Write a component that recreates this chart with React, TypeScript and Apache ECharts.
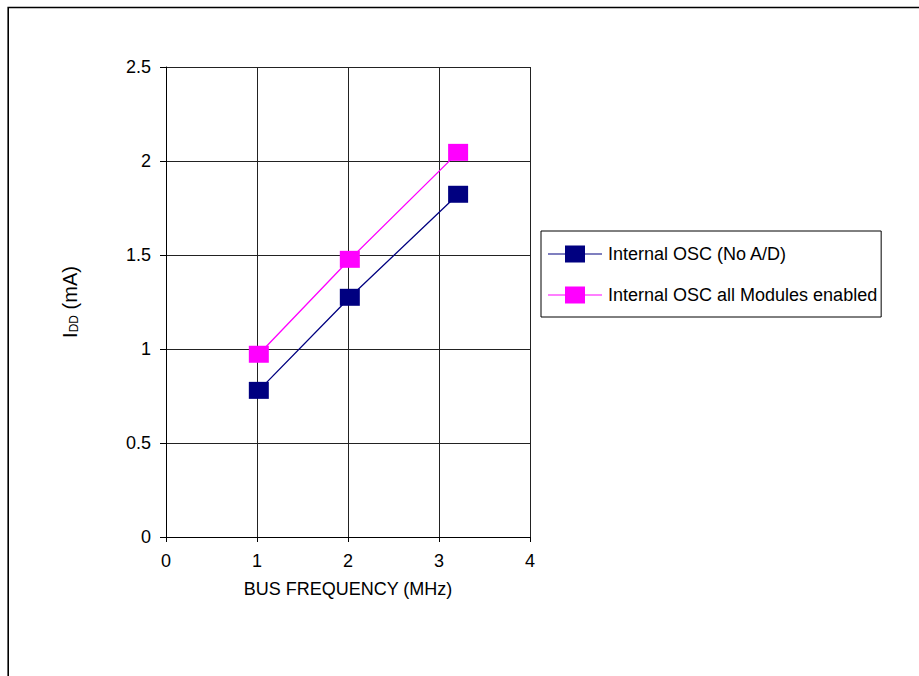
import React, { useEffect, useRef } from "react";
import * as echarts from "echarts";

const seriesNames = ["Internal OSC (No A/D)", "Internal OSC all Modules enabled"];
const busFreq = [1.02, 2.02, 3.21];
const iddNoAD = [0.78, 1.275, 1.823];
const iddAllModules = [0.972, 1.477, 2.046];
const seriesColors = ["#000080", "#FF00FF"];

const FONT = "'Liberation Sans', Arial, sans-serif";

export default function App() {
  const ref = useRef<HTMLDivElement>(null);
  useEffect(() => {
    if (!ref.current) return;
    const chart = echarts.init(ref.current, undefined, { renderer: "svg" });
    const toPairs = (ys: number[]) => busFreq.map((x, i) => [x, ys[i]]);
    const icon = "path://M0,8h54v1H0Z M17,0h20v17h-20Z";
    chart.setOption({
      animation: false,
      backgroundColor: "#fff",
      textStyle: { fontFamily: FONT },
      graphic: [
        {
          type: "rect",
          shape: { x: 8.2, y: 7.5, width: 1000, height: 1000 },
          style: { fill: "none", stroke: "#000", lineWidth: 1.6 },
          silent: true,
        },
      ],
      grid: { left: 166, right: 389, top: 67, bottom: 139, containLabel: false },
      legend: {
        orient: "vertical",
        left: 541,
        top: 231,
        padding: [14, 4, 13, 7],
        itemGap: 23,
        itemWidth: 54,
        itemHeight: 17,
        borderColor: "#000",
        borderWidth: 1,
        borderRadius: 0,
        backgroundColor: "#fff",
        itemStyle: { borderWidth: 0 },
        textStyle: { fontSize: 18, color: "#000", fontFamily: FONT, padding: [0, 0, 0, 1] },
        data: seriesNames.map((n) => ({ name: n, icon })),
      },
      xAxis: {
        type: "value",
        min: 0,
        max: 4,
        interval: 1,
        name: "BUS FREQUENCY (MHz)",
        nameLocation: "middle",
        nameGap: 43,
        nameTextStyle: { fontSize: 18, color: "#000", fontFamily: FONT },
        axisLine: { show: true, lineStyle: { color: "#000", width: 1 } },
        axisTick: { show: true, length: 5, lineStyle: { color: "#000" } },
        axisLabel: { fontSize: 18, color: "#000", margin: 15, fontFamily: FONT },
        splitLine: { show: true, lineStyle: { color: "#222", width: 1 } },
      },
      yAxis: {
        type: "value",
        min: 0,
        max: 2.5,
        interval: 0.5,
        name: "{a|I}{b|DD}{a| (mA)}",
        nameLocation: "middle",
        nameRotate: 90,
        nameGap: 86,
        nameTextStyle: {
          color: "#000",
          fontFamily: FONT,
          rich: {
            a: { fontSize: 20, color: "#000", fontFamily: FONT, verticalAlign: "bottom", lineHeight: 24 },
            b: { fontSize: 12, color: "#000", fontFamily: FONT, verticalAlign: "bottom", lineHeight: 14 },
          },
        },
        axisLine: { show: true, lineStyle: { color: "#000", width: 1 } },
        axisTick: { show: true, length: 6, lineStyle: { color: "#000" } },
        axisLabel: { fontSize: 18, color: "#000", margin: 15, fontFamily: FONT },
        splitLine: { show: true, lineStyle: { color: "#222", width: 1 } },
      },
      series: [
        {
          name: seriesNames[0],
          type: "line",
          data: toPairs(iddNoAD),
          symbol: "rect",
          symbolSize: [20, 17],
          itemStyle: { color: seriesColors[0] },
          lineStyle: { color: seriesColors[0], width: 1.3 },
          z: 3,
        },
        {
          name: seriesNames[1],
          type: "line",
          data: toPairs(iddAllModules),
          symbol: "rect",
          symbolSize: [20, 17],
          itemStyle: { color: seriesColors[1] },
          lineStyle: { color: seriesColors[1], width: 1.3 },
          z: 4,
        },
      ],
    });
    return () => chart.dispose();
  }, []);
  return (
    <div
      ref={ref}
      style={{ position: "absolute", left: 0, top: 0, width: 919, height: 676 }}
    />
  );
}
